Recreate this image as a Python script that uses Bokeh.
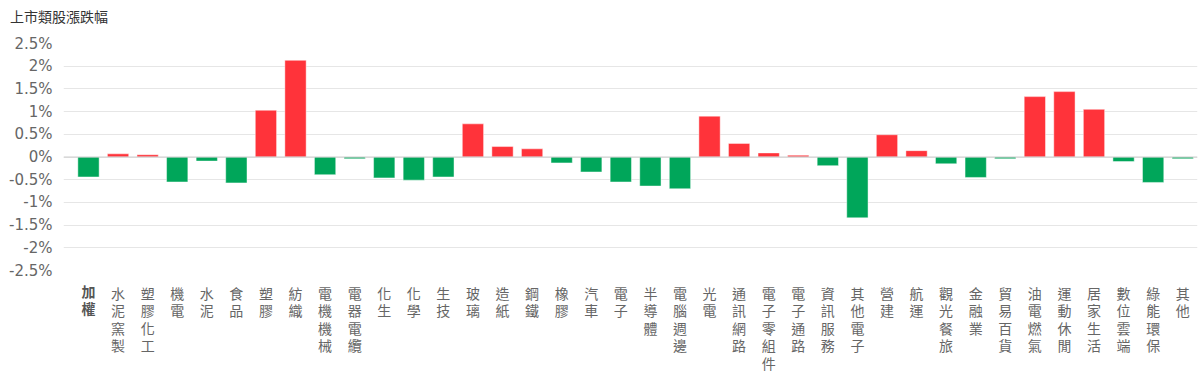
from bokeh.plotting import figure
from bokeh.models import ColumnDataSource, FixedTicker, Range1d, Span, LinearAxis, Div
from bokeh.layouts import column
from bokeh.embed import file_html
from bokeh.resources import INLINE

title_text = "上市類股漲跌幅"
categories = ["加權", "水泥窯製", "塑膠化工", "機電", "水泥", "食品", "塑膠", "紡織",
              "電機機械", "電器電纜", "化生", "化學", "生技", "玻璃", "造紙", "鋼鐵",
              "橡膠", "汽車", "電子", "半導體", "電腦週邊", "光電", "通訊網路",
              "電子零組件", "電子通路", "資訊服務", "其他電子", "營建", "航運",
              "觀光餐旅", "金融業", "貿易百貨", "油電燃氣", "運動休閒", "居家生活",
              "數位雲端", "綠能環保", "其他"]
values = [-0.44, 0.07, 0.05, -0.55, -0.09, -0.57, 1.03, 2.13,
          -0.39, -0.04, -0.46, -0.51, -0.44, 0.73, 0.23, 0.18,
          -0.13, -0.33, -0.55, -0.64, -0.70, 0.90, 0.30,
          0.09, 0.04, -0.19, -1.34, 0.49, 0.14,
          -0.15, -0.45, -0.04, 1.33, 1.44, 1.05,
          -0.10, -0.56, -0.04]
y_ticks = [2.5, 2, 1.5, 1, 0.5, 0, -0.5, -1, -1.5, -2, -2.5]
y_tick_labels = ["2.5%", "2%", "1.5%", "1%", "0.5%", "0%", "-0.5%", "-1%", "-1.5%", "-2%", "-2.5%"]

UP = "#ff333a"
DOWN = "#00a65a"
CJK = "Noto Sans CJK TC"
LH = 0.88

xs = list(range(len(categories)))
src = ColumnDataSource(dict(
    x=xs,
    top=[max(v, 0) for v in values],
    bottom=[min(v, 0) for v in values],
    color=[UP if v > 0 else DOWN for v in values],
))

header = Div(
    text=('<div style="position:relative; top:6px; left:10px; font-family:\'Noto Sans CJK TC\';'
          ' font-size:14px; line-height:20px; color:#333333; white-space:nowrap;">'
          + title_text + '</div>'),
    width=1200, height=30, margin=(0, 0, 0, 0))

p = figure(width=1200, height=353, output_backend="svg", toolbar_location=None,
           x_range=Range1d(-0.845, 37.5), y_range=Range1d(-2.5, 2.5),
           min_border_left=63, min_border_right=3, min_border_top=13, min_border_bottom=113,
           margin=(0, 0, 0, 0))

p.vbar(x="x", top="top", bottom="bottom", width=0.72, fill_color="color",
       line_color="white", line_alpha=0.45, line_width=1, source=src)

p.ygrid.ticker = FixedTicker(ticks=y_ticks)
p.ygrid.grid_line_color = "#e6e6e6"
p.xgrid.grid_line_color = None
p.add_layout(Span(location=0, dimension="width", line_color="#cccccc", line_width=1))
p.outline_line_color = None

p.yaxis.ticker = FixedTicker(ticks=y_ticks)
p.yaxis.major_label_overrides = {t: l for t, l in zip(y_ticks, y_tick_labels)}
p.yaxis.axis_line_color = None
p.yaxis.major_tick_line_color = None
p.yaxis.minor_tick_line_color = None
p.yaxis.major_tick_out = 0
p.yaxis.major_tick_in = 0
p.yaxis.major_label_standoff = 11
p.yaxis.major_label_text_font = "DejaVu Sans"
p.yaxis.major_label_text_font_size = "15px"
p.yaxis.major_label_text_color = "#666666"

labels = {i: "\n".join(list(c)) for i, c in enumerate(categories)}


def style_axis(ax, color, weight, standoff):
    ax.axis_line_color = None
    ax.major_tick_line_color = None
    ax.minor_tick_line_color = None
    ax.major_tick_out = 0
    ax.major_tick_in = 0
    ax.major_label_standoff = standoff
    ax.major_label_text_font = CJK
    ax.major_label_text_font_size = "14px"
    ax.major_label_text_color = color
    ax.major_label_text_font_style = weight
    ax.major_label_text_line_height = LH


# first (closest) axis: the bold index label
ax0 = p.xaxis[0]
ax0.ticker = FixedTicker(ticks=[0])
ax0.major_label_overrides = {0: labels[0]}
style_axis(ax0, "#555555", "bold", 10)

# second axis: all sectors, pulled up to the same line
ax1 = LinearAxis(ticker=FixedTicker(ticks=xs[1:]),
                 major_label_overrides={i: labels[i] for i in xs[1:]})
style_axis(ax1, "#666666", "normal", -39)
p.add_layout(ax1, "below")

layout = column(header, p, spacing=0, margin=(0, 0, 0, 0))
open("out.html", "w").write(file_html(layout, INLINE))
